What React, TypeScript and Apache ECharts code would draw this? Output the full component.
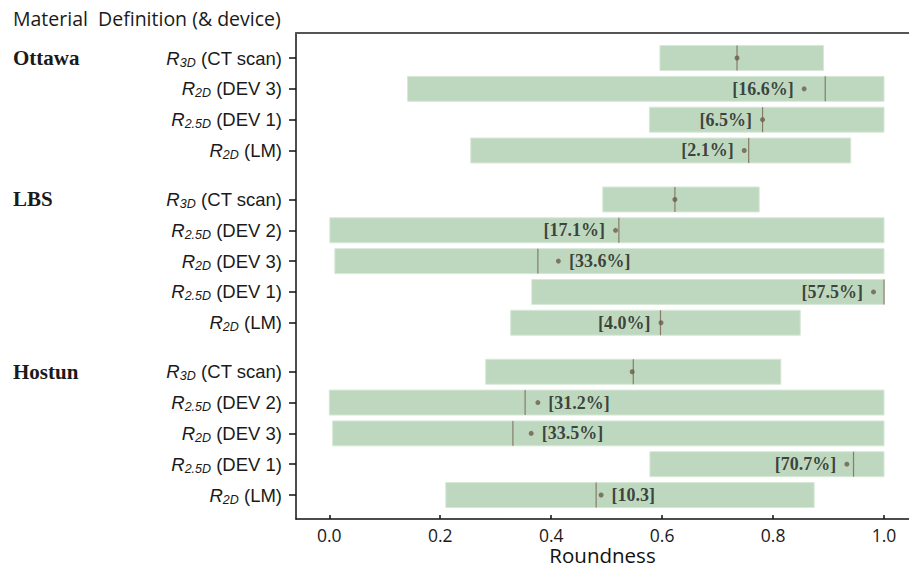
import { useEffect, useRef } from 'react';
import * as echarts from 'echarts';

const headerText = 'Material  Definition (& device)';
const groupNames = ['Ottawa', 'LBS', 'Hostun'];
const groupSizes = [4, 5, 5];
const rowSub = ['3D', '2D', '2.5D', '2D', '3D', '2.5D', '2D', '2.5D', '2D', '3D', '2.5D', '2D', '2.5D', '2D'];
const rowDevice = ['CT scan', 'DEV 3', 'DEV 1', 'LM', 'CT scan', 'DEV 2', 'DEV 3', 'DEV 1', 'LM', 'CT scan', 'DEV 2', 'DEV 3', 'DEV 1', 'LM'];
const rangeLow = [0.596, 0.141, 0.577, 0.255, 0.493, 0.001, 0.010, 0.365, 0.327, 0.282, 0.0, 0.006, 0.578, 0.210];
const rangeHigh = [0.891, 1.0, 1.0, 0.94, 0.775, 1.0, 1.0, 1.0, 0.849, 0.814, 1.0, 1.0, 1.0, 0.874];
const medianValues = [0.735, 0.894, 0.781, 0.756, 0.623, 0.522, 0.376, 1.0, 0.597, 0.548, 0.353, 0.331, 0.945, 0.481];
const meanValues = [0.735, 0.856, 0.781, 0.748, 0.623, 0.516, 0.413, 0.981, 0.598, 0.546, 0.376, 0.364, 0.933, 0.490];
const pctLabels = ['', '[16.6%]', '[6.5%]', '[2.1%]', '', '[17.1%]', '[33.6%]', '[57.5%]', '[4.0%]', '', '[31.2%]', '[33.5%]', '[70.7%]', '[10.3]'];
const labelSides = ['', 'left', 'left', 'left', '', 'left', 'right', 'left', 'left', '', 'right', 'right', 'left', 'right'];
const xTicks = [0, 0.2, 0.4, 0.6, 0.8, 1.0];

const GROUP_GAP = 0.589;

function computeRows() {
  const pos: number[] = [];
  const groupStart: number[] = [];
  let y = 0;
  groupSizes.forEach((n, g) => {
    if (g > 0) y += GROUP_GAP;
    groupStart.push(y);
    for (let i = 0; i < n; i++) {
      pos.push(y);
      y += 1;
    }
  });
  return { pos, groupStart };
}

export default function App() {
  const ref = useRef<HTMLDivElement>(null);
  useEffect(() => {
    if (!ref.current) return;
    const chart = echarts.init(ref.current, undefined, { renderer: 'svg' });
    const { pos, groupStart } = computeRows();
    const yMin = -0.812;
    const yMax = pos[pos.length - 1] + 0.778;
    const findRow = (v: number) => {
      let best = -1;
      let bd = 1e9;
      pos.forEach((p, i) => {
        const d = Math.abs(p - v);
        if (d < bd) { bd = d; best = i; }
      });
      return bd < 0.01 ? best : -1;
    };
    const findGroup = (v: number) => {
      let best = -1;
      groupStart.forEach((p, i) => { if (Math.abs(p - v) < 0.01) best = i; });
      return best;
    };
    const barData = pos.map((y, i) => [rangeLow[i], rangeHigh[i], y]);
    const medData = pos.map((y, i) => [medianValues[i], y]);
    const dotData = pos.map((y, i) => ({
      value: [meanValues[i], y],
      label: pctLabels[i]
        ? { show: true, position: labelSides[i], formatter: pctLabels[i] }
        : { show: false },
    }));

    chart.setOption({
      animation: false,
      title: {
        text: headerText,
        left: 13,
        top: 8,
        padding: 0,
        textStyle: { fontFamily: 'Open Sans', fontSize: 19.5, fontWeight: 'normal', color: '#1a1a1a' },
      },
      grid: { left: 296, right: 0, top: 33, bottom: 47, containLabel: false, outerBoundsMode: 'none' },
      xAxis: [
        {
          type: 'value',
          min: -0.06,
          max: 1.045,
          splitLine: { show: false },
          axisLine: { show: true, onZero: false, lineStyle: { color: '#111', width: 1.5 } },
          axisTick: { show: true, inside: true, length: 4, customValues: xTicks, lineStyle: { color: '#111', width: 1.5 } },
          axisLabel: {
            customValues: xTicks,
            formatter: (v: number) => v.toFixed(1),
            fontFamily: 'Open Sans',
            fontSize: 17.5,
            lineHeight: 18,
            color: '#1a1a1a',
            margin: 7,
          },
          name: 'Roundness',
          nameLocation: 'middle',
          nameGap: 26,
          nameMoveOverlap: false,
          nameTextStyle: { fontFamily: 'Open Sans', fontSize: 20.5, lineHeight: 20, color: '#111' },
        },
        {
          type: 'value',
          position: 'top',
          min: -0.06,
          max: 1.045,
          splitLine: { show: false },
          axisLine: { show: true, onZero: false, lineStyle: { color: '#555', width: 2 } },
          axisTick: { show: false },
          axisLabel: { show: false },
        },
      ],
      yAxis: [
        {
          type: 'value',
          inverse: true,
          min: yMin,
          max: yMax,
          splitLine: { show: false },
          axisLine: { show: true, onZero: false, lineStyle: { color: '#111', width: 1.5 } },
          axisTick: { show: true, inside: false, length: 7, customValues: pos, lineStyle: { color: '#111', width: 1.5 } },
          axisLabel: {
            customValues: pos,
            margin: 14,
            formatter: (v: number) => {
              const i = findRow(v);
              if (i < 0) return '';
              return `{r|R}{s|${rowSub[i]}}{n| (${rowDevice[i]})}`;
            },
            rich: {
              r: { fontFamily: 'Liberation Sans', fontStyle: 'italic', fontSize: 18.5, lineHeight: 22, color: '#1a1a1a' },
              s: { fontFamily: 'Liberation Sans', fontStyle: 'italic', fontSize: 12.5, lineHeight: 12, verticalAlign: 'bottom', color: '#1a1a1a' },
              n: { fontFamily: 'Liberation Sans', fontSize: 18.5, lineHeight: 22, color: '#1a1a1a' },
            },
          },
        },
        {
          type: 'value',
          inverse: true,
          position: 'left',
          min: yMin,
          max: yMax,
          splitLine: { show: false },
          axisLine: { show: false, onZero: false },
          axisTick: { show: false },
          axisLabel: {
            customValues: groupStart,
            margin: 283,
            align: 'left',
            formatter: (v: number) => {
              const g = findGroup(v);
              return g < 0 ? '' : groupNames[g];
            },
            fontFamily: 'Liberation Serif',
            fontWeight: 'bold',
            fontSize: 21,
            color: '#1a1a1a',
          },
        },
      ],
      series: [
        {
          type: 'custom',
          xAxisIndex: 0,
          yAxisIndex: 0,
          data: barData,
          renderItem: (params: any, api: any) => {
            const lo = api.value(0);
            const hi = api.value(1);
            const y = api.value(2);
            const a = api.coord([lo, y]);
            const b = api.coord([hi, y]);
            const h = api.size([0, 1])[1] * 0.81;
            return {
              type: 'rect',
              shape: { x: a[0], y: a[1] - h / 2, width: b[0] - a[0], height: h },
              style: { fill: '#bdd8be', stroke: '#d7e8d7', lineWidth: 1 },
            };
          },
          z: 1,
        },
        {
          type: 'custom',
          xAxisIndex: 0,
          yAxisIndex: 0,
          data: medData,
          renderItem: (params: any, api: any) => {
            const m = api.value(0);
            const y = api.value(1);
            const c = api.coord([m, y]);
            const h = api.size([0, 1])[1] * 0.81;
            return {
              type: 'line',
              shape: { x1: c[0], y1: c[1] - h / 2, x2: c[0], y2: c[1] + h / 2 },
              style: { stroke: '#857d68', lineWidth: 1.2 },
            };
          },
          z: 2,
        },
        {
          type: 'scatter',
          xAxisIndex: 0,
          yAxisIndex: 0,
          symbol: 'circle',
          symbolSize: 5,
          itemStyle: { color: '#6b5d48' },
          data: dotData,
          label: {
            distance: 8,
            fontFamily: 'Liberation Serif',
            fontWeight: 'bold',
            fontSize: 18,
            color: '#1a1a1a',
          },
          z: 3,
        },
      ],
    });
    return () => chart.dispose();
  }, []);
  return <div ref={ref} style={{ position: 'fixed', left: 0, top: 0, width: 909, height: 566, background: '#fff' }} />;
}
